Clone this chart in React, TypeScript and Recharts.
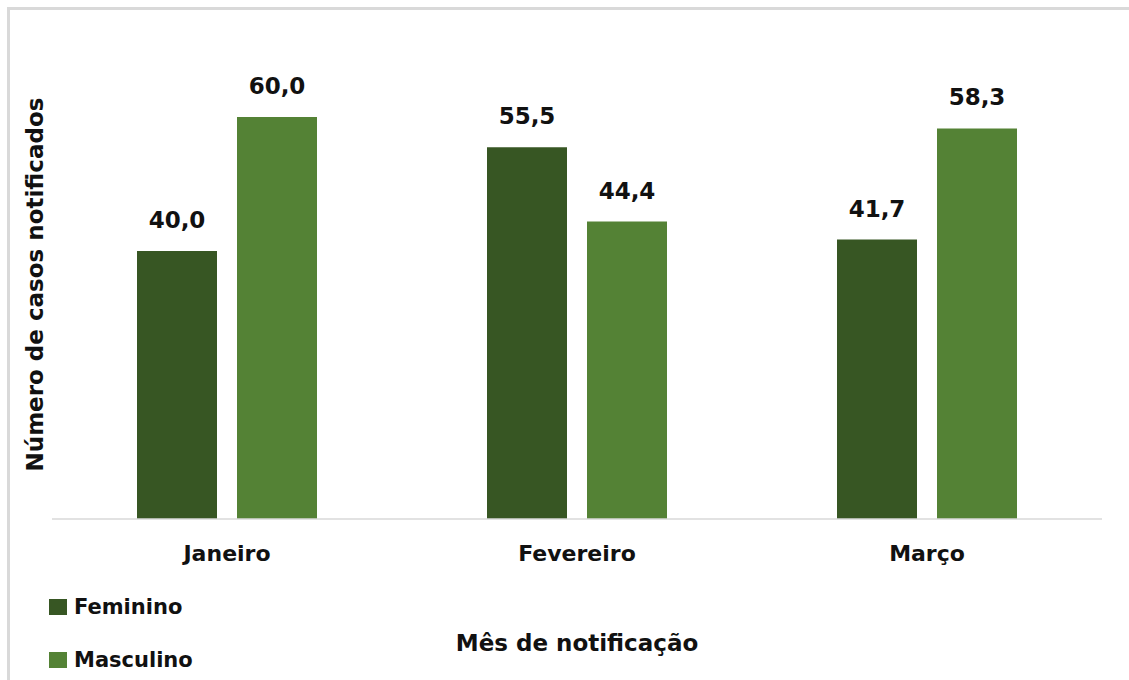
import React from "react";
import { BarChart, Bar, XAxis, YAxis, LabelList } from "recharts";

// Mês de notificação x sexo
const months = ["Janeiro", "Fevereiro", "Março"];
const feminino = [40.0, 55.5, 41.7];
const masculino = [60.0, 44.4, 58.3];
const seriesNames = ["Feminino", "Masculino"];
const seriesColors = ["#375623", "#548235"];

const data = months.map((mes, i) => ({
  mes,
  Feminino: feminino[i],
  Masculino: masculino[i],
}));

const FONT = "'DejaVu Sans', sans-serif";
const fmt = (v: number) => v.toFixed(1).replace(".", ",");

export default function App() {
  return (
    <div
      style={{
        position: "absolute",
        left: 0,
        top: 0,
        width: 1129,
        height: 680,
        background: "#ffffff",
        fontFamily: FONT,
        overflow: "hidden",
      }}
    >
      <div
        style={{
          position: "absolute",
          left: 7,
          top: 7,
          width: 1130,
          height: 680,
          borderLeft: "3px solid #d9d9d9",
          borderTop: "3px solid #d9d9d9",
          boxSizing: "border-box",
        }}
      />
      <BarChart
        width={1129}
        height={680}
        data={data}
        margin={{ top: 50, right: 27, left: 18, bottom: 0 }}
        barSize={80}
        barGap={20}
        style={{ position: "absolute", left: 0, top: 0 }}
      >
        <YAxis
          width={34}
          domain={[0, 70]}
          tick={false}
          tickLine={false}
          axisLine={false}
          label={{
            value: "Número de casos notificados",
            angle: -90,
            position: "center",
            style: { fontFamily: FONT, fontWeight: 700, fontSize: 23, fill: "#111" },
          }}
        />
        <XAxis
          dataKey="mes"
          height={161}
          tickLine={false}
          tickMargin={20}
          axisLine={{ stroke: "#d9d9d9", strokeWidth: 1.5 }}
          tick={{ fontFamily: FONT, fontWeight: 700, fontSize: 22, fill: "#111" }}
          label={{
            value: "Mês de notificação",
            position: "insideBottom",
            offset: 29,
            style: { fontFamily: FONT, fontWeight: 700, fontSize: 23, fill: "#111" },
          }}
        />
        {seriesNames.map((name, i) => (
          <Bar key={name} dataKey={name} fill={seriesColors[i]} isAnimationActive={false}>
            <LabelList
              dataKey={name}
              position="top"
              offset={23}
              formatter={(v: any) => fmt(Number(v))}
              style={{ fontFamily: FONT, fontWeight: 700, fontSize: 23, fill: "#111" }}
            />
          </Bar>
        ))}
      </BarChart>
      {seriesNames.map((name, i) => (
        <div
          key={name}
          style={{
            position: "absolute",
            left: 49,
            top: 596 + i * 53,
            height: 22,
            display: "flex",
            alignItems: "center",
            fontFamily: FONT,
            fontWeight: 700,
            fontSize: 21,
            color: "#111",
          }}
        >
          <span
            style={{
              display: "inline-block",
              width: 18,
              height: 16,
              background: seriesColors[i],
              marginRight: 7,
            }}
          />
          {name}
        </div>
      ))}
    </div>
  );
}
